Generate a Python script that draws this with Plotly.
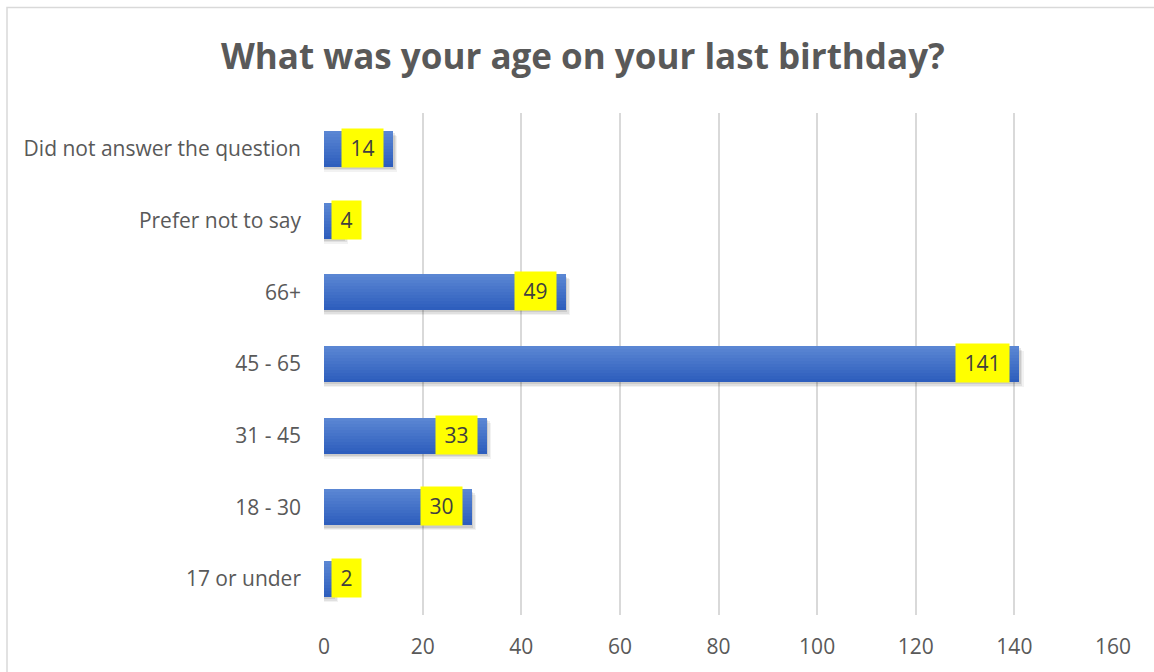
import plotly.graph_objects as go

# Survey responses by age group (bottom to top)
categories = ["17 or under", "18 - 30", "31 - 45", "45 - 65", "66+",
              "Prefer not to say", "Did not answer the question"]
counts = [2, 30, 33, 141, 49, 4, 14]
x_ticks = [0, 20, 40, 60, 80, 100, 120, 140, 160]

TITLE = "What was your age on your last birthday?"
FONT = "Open Sans, sans-serif"
TEXT_GREY = "#595959"

# plot area geometry (px)
L, R, T, B = 324, 41, 113, 55
W_PX = 1154 - L - R
H_PX = 672 - T - B
X_MAX = 160
PX_PER_UNIT = W_PX / X_MAX

BAR_W = 0.5
fig = go.Figure()

# soft drop shadow under each bar
for dy, dx, alpha in [(0.07, 0.9, 0.05), (0.05, 0.6, 0.07), (0.03, 0.3, 0.09)]:
    fig.add_trace(go.Bar(
        y=categories, x=[c + dx for c in counts], orientation="h",
        width=BAR_W, offset=-BAR_W / 2 - dy,
        marker=dict(color=f"rgba(0,0,0,{alpha})", line_width=0),
        hoverinfo="skip", showlegend=False))

# vertical gradient fill built from thin stacked slices
top_rgb = (0x5A, 0x86, 0xD3)
bot_rgb = (0x2E, 0x5E, 0xBD)
N = 12
slice_w = BAR_W / N
for i in range(N):
    t = i / (N - 1)
    rgb = tuple(round(b + (a - b) * t) for a, b in zip(top_rgb, bot_rgb))
    fig.add_trace(go.Bar(
        y=categories, x=counts, orientation="h",
        width=slice_w * 1.02, offset=-BAR_W / 2 + i * slice_w,
        marker=dict(color="rgb(%d,%d,%d)" % rgb, line_width=0),
        hovertemplate="%{y}: %{x}<extra></extra>", showlegend=False))

# yellow value labels
annotations = []
for cat, v in zip(categories, counts):
    txt = str(v)
    box_w = 13 + 12 * len(txt)
    if v * PX_PER_UNIT - 9 - box_w - 4 < 7:
        ax, anchor, shift = 0, "left", 7
    else:
        ax, anchor, shift = v, "right", -9
    annotations.append(dict(
        x=ax, y=cat, xref="x", yref="y", text=txt, showarrow=False,
        xanchor=anchor, yanchor="middle", xshift=shift, yshift=1,
        width=box_w, height=34, borderpad=2, align="center",
        bgcolor="#FFFF00", font=dict(family=FONT, size=21, color="#404040")))

# chart title, placed above the plot area
annotations.append(dict(
    x=(583 - L) / W_PX, y=(672 - B - 55) / H_PX, xref="paper", yref="paper",
    text="<b>%s</b>" % TITLE,
    showarrow=False, xanchor="center", yanchor="middle",
    font=dict(family=FONT, size=35, color=TEXT_GREY)))

fig.update_layout(
    width=1154, height=672,
    margin=dict(l=L, r=R, t=T, b=B, pad=0),
    paper_bgcolor="white", plot_bgcolor="white",
    barmode="overlay", bargap=0,
    annotations=annotations,
    shapes=[dict(type="rect", xref="paper", yref="paper",
                 x0=(7 - L) / W_PX, x1=1.3,
                 y0=-0.3, y1=(672 - B - 7) / H_PX,
                 line=dict(color="#d9d9d9", width=1.5), fillcolor="rgba(0,0,0,0)",
                 layer="below")],
    xaxis=dict(range=[0, X_MAX], tickvals=x_ticks, showgrid=True,
               gridcolor="#d9d9d9", gridwidth=1.5, zeroline=False,
               showline=False, ticks="", ticklabelstandoff=17,
               tickfont=dict(family=FONT, size=21, color=TEXT_GREY),
               fixedrange=True),
    yaxis=dict(categoryorder="array", categoryarray=categories,
               range=[-0.5, len(categories) - 0.5],
               showgrid=False, zeroline=False, showline=False, ticks="",
               ticklabelstandoff=22,
               tickfont=dict(family=FONT, size=21, color=TEXT_GREY),
               fixedrange=True),
    font=dict(family=FONT),
)

fig.write_html("out.html")
